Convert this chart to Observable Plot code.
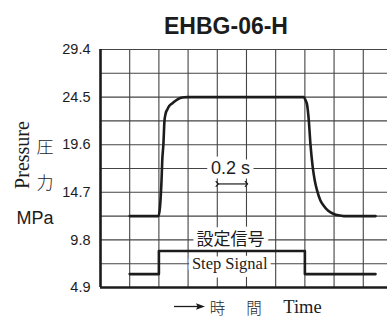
<!DOCTYPE html>
<html>
<head>
<meta charset="utf-8">
<script src="https://cdn.jsdelivr.net/npm/d3@7"></script>
<script src="https://cdn.jsdelivr.net/npm/@observablehq/plot@0.6"></script>
<style>
  html, body { margin: 0; padding: 0; background: #fff; }
  #wrap { position: relative; width: 387px; height: 316px; overflow: hidden; }
  #overlay { position: absolute; left: 0; top: 0; pointer-events: none; }
</style>
</head>
<body>
<div id="wrap"></div>
<script>
// ---- data ----
const titleText = "EHBG-06-H";
const yTicks = [4.9, 9.8, 14.7, 19.6, 24.5, 29.4];
const yGrid = [7.35, 9.8, 12.25, 14.7, 17.15, 19.6, 22.05, 24.5, 26.95, 29.4];
const xGrid = [0.2, 0.4, 0.6, 0.8, 1.0, 1.2, 1.4, 1.6, 1.8];

// pressure response (time s, MPa)
const pressureT = [0.2, 0.397, 0.418, 0.423, 0.431, 0.438, 0.446, 0.457, 0.472, 0.491, 0.512, 0.534, 0.56, 0.594,
                   1.392, 1.404, 1.416, 1.427, 1.438, 1.454, 1.468, 1.484, 1.505, 1.529, 1.56, 1.598, 1.63, 1.666, 1.884];
const pressureV = [12.25, 12.25, 15.9, 17.96, 19.7, 22.0, 22.8, 23.2, 23.6, 23.85, 24.1, 24.32, 24.45, 24.5,
                   24.5, 24.2, 23.63, 22.08, 19.68, 17.27, 15.9, 14.87, 13.9, 13.32, 12.8, 12.47, 12.33, 12.25, 12.25];

// step signal (time s, level)
const stepT = [0.2, 0.4, 1.4, 1.884];
const stepV = [6.28, 8.66, 6.28, 6.28];

// annotations
const noteSansText = ["0.2 s"];
const noteSansT = [0.89];
const noteSansV = [17.15];
const noteSerifText = ["設定信号", "Step Signal"];
const noteSerifT = [0.89, 0.885];
const noteSerifV = [9.8, 7.35];
const noteSerifSize = [17, 16.5];
const spanT1 = [0.8];
const spanT2 = [1.0];
const spanV = [15.56];

// ---- build tables ----
const pressure = pressureT.map((t, i) => ({t, v: pressureV[i]}));
const step = stepT.map((t, i) => ({t, v: stepV[i]}));
const notesSans = noteSansText.map((s, i) => ({s, t: noteSansT[i], v: noteSansV[i]}));
const notesSerif = noteSerifText.map((s, i) => ({s, t: noteSerifT[i], v: noteSerifV[i], fs: noteSerifSize[i]}));
const spans = spanT1.map((t1, i) => ({t1, t2: spanT2[i], v: spanV[i]}));

const ink = "#1c1c1c";
const gridColor = "#444";

const chart = Plot.plot({
  width: 387,
  height: 316,
  marginLeft: 100,
  marginRight: 0,
  marginTop: 49,
  marginBottom: 29,
  style: {fontFamily: "'Liberation Sans', Arial, sans-serif", fontSize: "14.5px", color: ink, background: "white"},
  x: {domain: [0, 1.966], axis: null},
  y: {domain: [4.9, 29.4], axis: null},
  marks: [
    Plot.ruleX(xGrid, {stroke: gridColor, strokeWidth: 1.1}),
    Plot.ruleY(yGrid, {stroke: gridColor, strokeWidth: 1.1}),
    Plot.text(notesSans, {x: "t", y: "v", text: "s", fontSize: 18, fill: ink,
      stroke: "white", strokeWidth: 9, strokeLinejoin: "round", paintOrder: "stroke"}),
    Plot.text(notesSerif, {x: "t", y: "v", text: "s", fontSize: "fs", fill: ink,
      fontFamily: "'Liberation Serif', 'Noto Sans CJK JP', serif",
      stroke: "white", strokeWidth: 9, strokeLinejoin: "round", paintOrder: "stroke"}),
    Plot.link(spans, {x1: "t1", x2: "t2", y1: "v", y2: "v", stroke: ink, strokeWidth: 1.2,
      markerStart: "arrow", markerEnd: "arrow"}),
    Plot.line(step, {x: "t", y: "v", curve: "step-after", stroke: ink, strokeWidth: 2.6}),
    Plot.line(pressure, {x: "t", y: "v", curve: "monotone-x", stroke: ink, strokeWidth: 2.6}),
    Plot.ruleX([0], {stroke: ink, strokeWidth: 2.6}),
    Plot.ruleY([4.9], {stroke: ink, strokeWidth: 2.6}),
    Plot.axisY(yTicks, {tickSize: 0, tickPadding: 10, fontSize: 14.5, label: null,
      tickFormat: d => d.toFixed(1), fill: ink})
  ]
});

const wrap = document.getElementById("wrap");
wrap.appendChild(chart);

// ---- overlay texts (title, axis titles) ----
const ns = "http://www.w3.org/2000/svg";
const ov = document.createElementNS(ns, "svg");
ov.setAttribute("id", "overlay");
ov.setAttribute("width", 387);
ov.setAttribute("height", 316);
function txt(s, attrs) {
  const t = document.createElementNS(ns, "text");
  for (const k in attrs) t.setAttribute(k, attrs[k]);
  t.textContent = s;
  ov.appendChild(t);
  return t;
}
const sans = "'Liberation Sans', Arial, sans-serif";
const serif = "'Liberation Serif', 'Times New Roman', serif";
const cjk = "'Noto Sans CJK JP', sans-serif";
txt(titleText, {x: 226, y: 33.5, "text-anchor": "middle", "font-family": sans, "font-size": 23, "font-weight": "bold", fill: ink});
txt("Pressure", {transform: "translate(28.5,155) rotate(-90)", "text-anchor": "middle", "font-family": serif, "font-size": 20, fill: ink});
txt("圧", {x: 45, y: 145, "text-anchor": "middle", "dominant-baseline": "central", "font-family": cjk, "font-size": 17, "font-weight": 300, fill: ink});
txt("力", {x: 45, y: 181, "text-anchor": "middle", "dominant-baseline": "central", "font-family": cjk, "font-size": 17, "font-weight": 300, fill: ink});
txt("MPa", {x: 35, y: 224, "text-anchor": "middle", "font-family": sans, "font-size": 18, fill: ink});
// bottom time label
const ln = document.createElementNS(ns, "line");
ln.setAttribute("x1", 174); ln.setAttribute("x2", 199); ln.setAttribute("y1", 306.5); ln.setAttribute("y2", 306.5);
ln.setAttribute("stroke", ink); ln.setAttribute("stroke-width", 1.3);
ov.appendChild(ln);
const head = document.createElementNS(ns, "path");
head.setAttribute("d", "M205,306.5 L196,303.2 L197.5,306.5 L196,309.8 Z");
head.setAttribute("fill", ink);
ov.appendChild(head);
txt("時", {x: 217.5, y: 306.5, "text-anchor": "middle", "dominant-baseline": "central", "font-family": cjk, "font-size": 15.5, "font-weight": 300, fill: ink});
txt("間", {x: 254, y: 306.5, "text-anchor": "middle", "dominant-baseline": "central", "font-family": cjk, "font-size": 15.5, "font-weight": 300, fill: ink});
txt("Time", {x: 283.3, y: 312.5, "font-family": serif, "font-size": 18.5, fill: ink});
wrap.appendChild(ov);
</script>
</body>
</html>
